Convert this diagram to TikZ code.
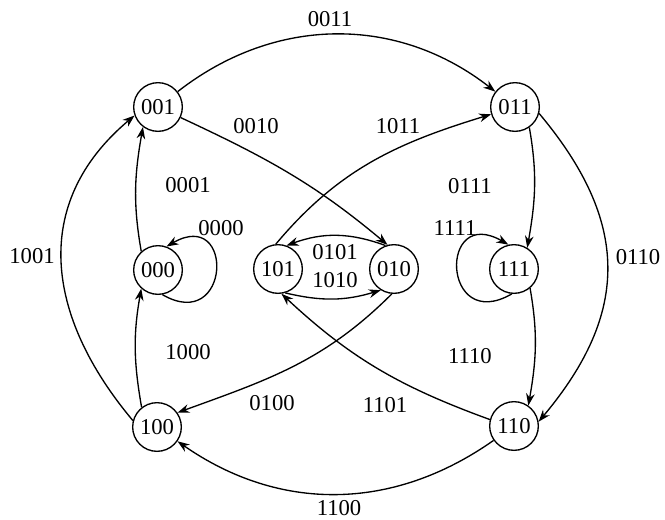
\documentclass[tikz,border=0pt]{standalone}
\usepackage{fontspec}
\setmainfont{Liberation Serif}
\usetikzlibrary{arrows.meta}
\begin{document}
\begin{tikzpicture}[x=0.75pt,y=0.75pt,
  st/.style={circle,draw,line width=1pt,minimum size=36.5pt,inner sep=0pt,font=\fontsize{17}{20}\selectfont},
  lbl/.style={font=\fontsize{17}{20}\selectfont,inner sep=0pt},
  tr/.style={draw,line width=1pt,-{Stealth[length=9pt,width=6.5pt]}},
]
\useasboundingbox (0,0) rectangle (665,-519);
% states
\node[st] (n001) at (158,-107) {001};
\node[st] (n011) at (515,-107) {011};
\node[st] (n000) at (158,-270) {000};
\node[st] (n101) at (278,-269) {101};
\node[st] (n010) at (394,-269) {010};
\node[st] (n111) at (514,-269) {111};
\node[st] (n100) at (157,-427) {100};
\node[st] (n110) at (514,-426) {110};
% transitions
\draw[tr] (n001) to[bend left=38] (n011);
\draw[tr] (n001) to[out=-25,in=140] (n010.105);
\draw[tr] (n101.95) to[out=50,in=197] (n011);
\draw[tr] (n010.-95) to[out=-135,in=20] (n100.35);
\draw[tr] (n110.165) to[out=160,in=-43] (n101.-82);
\draw[tr] (n110) to[bend left=35] (n100);
\draw[tr] (n100.165) to[out=130,in=220,looseness=1.14] (n001.200);
\draw[tr] (n011.-15) to[out=-50,in=50,looseness=1.18] (n110.10);
\draw[tr] (n000.132) to[out=100,in=-100] (n001.-127);
\draw[tr] (n100.128) to[out=100,in=-100] (n000.-132);
\draw[tr] (n011.-55) to[out=-80,in=80] (n111.58);
\draw[tr] (n111.-50) to[out=-80,in=80] (n110.55);
\draw[tr] (n000.-80) to[out=-30,in=30,looseness=4.2] (n000.70);
\draw[tr] (n111.-95) to[out=-150,in=150,looseness=4.2] (n111.103);
\draw[tr] (n010.110) to[bend right=20] (n101.70);
\draw[tr] (n101.-73) to[bend right=15] (n010.-122);
% labels
\node[lbl] (l0011) at (330,-19) {0011};
\node[lbl] (l0010) at (256,-126) {0010};
\node[lbl] (l1011) at (398,-126) {1011};
\node[lbl] (l0001) at (188,-185) {0001};
\node[lbl] (l0111) at (470,-186) {0111};
\node[lbl] (l0000) at (221,-228) {0000};
\node[lbl] (l1111) at (455,-228) {1111};
\node[lbl] (l1001) at (32,-256) {1001};
\node[lbl] (l0110) at (638,-257) {0110};
\node[lbl] (l0101) at (335,-252) {0101};
\node[lbl] (l1010) at (335,-280) {1010};
\node[lbl] (l1000) at (188,-352) {1000};
\node[lbl] (l1110) at (470,-356) {1110};
\node[lbl] (l0100) at (272,-403) {0100};
\node[lbl] (l1101) at (385,-405) {1101};
\node[lbl] (l1100) at (339,-508) {1100};
\end{tikzpicture}
\end{document}
